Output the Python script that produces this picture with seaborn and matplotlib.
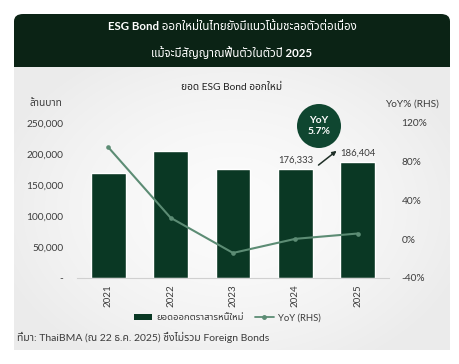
import numpy as np
import pandas as pd
import matplotlib
matplotlib.use("Agg")
import matplotlib.pyplot as plt
import seaborn as sns
from matplotlib import font_manager as fm
from matplotlib.ft2font import FT2Font
from matplotlib.patches import FancyBboxPatch, Rectangle, Ellipse, Patch
from matplotlib.lines import Line2D

# ---------------- data ----------------
years = ["2021", "2022", "2023", "2024", "2025"]
issuance = [168500, 205500, 176000, 176333, 186404]   # ล้านบาท
yoy = [95.0, 22.0, -14.4, 0.2, 5.7]                   # %
left_ticks = [0, 50000, 100000, 150000, 200000, 250000]
left_labels = ["-", "50,000", "100,000", "150,000", "200,000", "250,000"]
right_ticks = [-40, 0, 40, 80, 120]
right_labels = ["-40%", "0%", "40%", "80%", "120%"]
labelled_years = ["2024", "2025"]

title1 = "ESG Bond ออกใหม่ในไทยยังมีแนวโน้มชะลอตัวต่อเนื่อง"
title2 = "แม้จะมีสัญญาณฟื้นตัวในตัวปี 2025"
chart_title = "ยอด ESG Bond ออกใหม่"
left_unit = "ล้านบาท"
right_unit = "YoY% (RHS)"
bar_name = "ยอดออกตราสารหนี้ใหม่"
line_name = "YoY (RHS)"
source = "ที่มา: ThaiBMA (ณ 22 ธ.ค. 2025) ซึ่งไม่รวม Foreign Bonds"
bubble = "YoY\n5.7%"

# ---------------- fonts ----------------
def has_thai(path):
    try:
        f = FT2Font(path)
        return f.get_char_index(ord("ก")) != 0
    except Exception:
        return False

thai_fam = None
pref = ["Noto Sans Thai", "Noto Sans Thai Looped", "Kanit", "Prompt", "Sarabun",
        "Loma", "Garuda", "Norasi", "Waree", "Umpush", "Tlwg Typo"]
cands = {}
for fe in fm.fontManager.ttflist:
    if fe.name not in cands and has_thai(fe.fname):
        cands[fe.name] = fe.fname
for p in pref:
    if p in cands:
        thai_fam = p
        break
if thai_fam is None and cands:
    thai_fam = sorted(cands)[0]

sns.set_theme(style="white")
fams = ["Lato"] + ([thai_fam] if thai_fam else []) + ["DejaVu Sans"]
plt.rcParams["font.family"] = fams

# ---------------- colours ----------------
HEADER = "#0b2315"
BAR = "#0a3824"
LINE = "#5c8c74"
BUBBLE = "#0f4630"
TXT = "#3c3c3c"

W, H = 460, 364
fig = plt.figure(figsize=(W / 100, H / 100), dpi=100)
fig.patch.set_facecolor("white")

def fx(px):
    return px / W

def fy(py):
    return 1 - py / H

# body background with soft gradient
bg = fig.add_axes([fx(14), fy(350), fx(450) - fx(14), fy(67) - fy(350)], zorder=0)
gx = np.linspace(-1, 1, 200)
gy = np.linspace(-1, 1, 160)
GX, GY = np.meshgrid(gx, gy)
R = np.clip(np.sqrt((GX * 0.9) ** 2 + (GY * 0.8) ** 2), 0, 1)
grad = 0.985 - 0.06 * R ** 1.6
bg.imshow(np.dstack([grad, grad, grad]), aspect="auto", extent=[0, 1, 0, 1],
          interpolation="bilinear")
bg.set_axis_off()

# header
fig.patches.append(FancyBboxPatch((fx(14), fy(67)), fx(450) - fx(14), fy(14) - fy(67),
                                  boxstyle="round,pad=0,rounding_size=0.02",
                                  transform=fig.transFigure, facecolor=HEADER,
                                  edgecolor="none", zorder=1))
fig.patches.append(Rectangle((fx(14), fy(67)), fx(450) - fx(14), fy(45) - fy(67),
                             transform=fig.transFigure, facecolor=HEADER,
                             edgecolor="none", zorder=1))
fig.text(fx(232), fy(26), title1, color="white", fontsize=8.3, fontweight="bold",
         ha="center", va="center", zorder=3)
fig.text(fx(232), fy(53), title2, color="white", fontsize=8.3, fontweight="bold",
         ha="center", va="center", zorder=3)

# ---------------- main chart ----------------
ax = fig.add_axes([fx(77), fy(277.7), fx(389) - fx(77), fy(123) - fy(277.7)], zorder=2)
ax.set_facecolor("none")
df = pd.DataFrame({"year": years, "issuance": issuance, "yoy": yoy})
sns.barplot(data=df, x="year", y="issuance", color=BAR, width=0.56,
            saturation=1, ax=ax, zorder=2)
ax.set_ylim(0, 250000)
ax.set_xlim(-0.5, 4.5)
ax.set_yticks(left_ticks)
ax.set_yticklabels(left_labels)
ax.set_xlabel("")
ax.set_ylabel("")
for s in ["top", "right", "left"]:
    ax.spines[s].set_visible(False)
ax.spines["bottom"].set_color("#d0d0d0")
ax.spines["bottom"].set_linewidth(0.8)
ax.tick_params(axis="y", length=0, pad=10, labelsize=7.3, labelcolor=TXT)
ax.tick_params(axis="x", length=0, pad=5, labelsize=7, labelcolor=TXT, rotation=90)

for i, (yr, v) in enumerate(zip(years, issuance)):
    if yr in labelled_years:
        ax.text(i, v + 7000, f"{v:,}", ha="center", va="bottom", fontsize=6.8, color=TXT)

ax2 = ax.twinx()
ax2.set_facecolor("none")
sns.pointplot(data=df, x="year", y="yoy", color=LINE, markers="o", markersize=2.2,
              linewidth=1.5, ax=ax2)
ax2.set_ylim(-40, 120)
ax2.set_xlim(-0.5, 4.5)
ax2.set_yticks(right_ticks)
ax2.set_yticklabels(right_labels)
ax2.set_ylabel("")
ax2.set_xlabel("")
for s in ["top", "right", "left", "bottom"]:
    ax2.spines[s].set_visible(False)
ax2.tick_params(axis="y", length=0, pad=9, labelsize=7.3, labelcolor=TXT)

# arrow towards 2025
ax.annotate("", xy=(3.66, 205000), xytext=(3.37, 182000),
            arrowprops=dict(arrowstyle="-|>", color="#1f2f27", lw=1.1,
                            mutation_scale=6, shrinkA=0, shrinkB=0))

# bubble
fig.patches.append(Ellipse((fx(319), fy(126)), 44 / W, 44 / H, transform=fig.transFigure,
                           facecolor=BUBBLE, edgecolor="none", zorder=4))
fig.text(fx(319), fy(126), bubble, color="white", fontsize=7.5, fontweight="bold",
         ha="center", va="center", linespacing=1.15, zorder=5)

# titles / units
fig.text(fx(232), fy(87), chart_title, fontsize=7.3, color="#222222",
         ha="center", va="center", zorder=3)
fig.text(fx(30), fy(103), left_unit, fontsize=7.3, color=TXT,
         ha="left", va="center", zorder=3)
fig.text(fx(385), fy(104), right_unit, fontsize=7.3, color=TXT,
         ha="left", va="center", zorder=3)

# legend
handles = [Patch(facecolor=BAR, edgecolor="none"),
           Line2D([0], [0], color=LINE, lw=1.3, marker="o", markersize=2.5)]
leg = fig.legend(handles, [bar_name, line_name], loc="center",
                 bbox_to_anchor=(fx(227), fy(318)), ncol=2, frameon=False,
                 fontsize=6.8, handlelength=2.0, handleheight=0.5,
                 columnspacing=1.2, handletextpad=0.4)
for t in leg.get_texts():
    t.set_color(TXT)
leg.set_zorder(5)

# source
fig.text(fx(17), fy(337), source, fontsize=7.5, color=TXT,
         ha="left", va="center", zorder=3)

fig.savefig("out.png", dpi=100, facecolor="white")
